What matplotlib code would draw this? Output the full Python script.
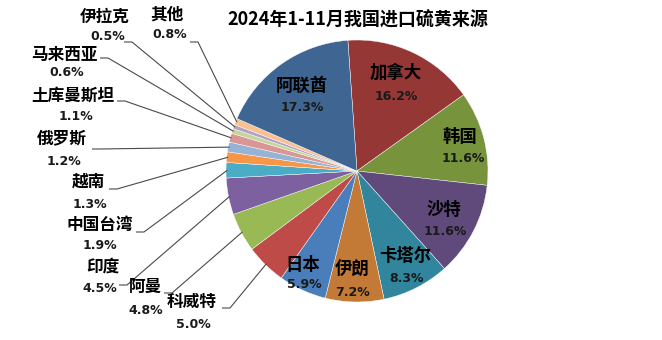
import matplotlib
matplotlib.use('Agg')
import matplotlib.pyplot as plt
import numpy as np

plt.rcParams['font.family'] = ['Noto Sans CJK SC', 'DejaVu Sans']

# data, clockwise from 12 o'clock
countries = ['加拿大', '韩国', '沙特', '卡塔尔', '伊朗', '日本', '科威特', '阿曼', '印度',
             '中国台湾', '越南', '俄罗斯', '土库曼斯坦', '马来西亚', '伊拉克', '其他', '阿联酋']
shares = [16.2, 11.6, 11.6, 8.3, 7.2, 5.9, 5.0, 4.8, 4.5,
          1.9, 1.3, 1.2, 1.1, 0.6, 0.5, 0.8, 17.3]
colors = ['#953735', '#77933C', '#604A7B', '#31859C', '#C47A37', '#4A7EBB', '#BE4B48',
          '#98B954', '#7D60A0', '#4BACC6', '#F79646', '#95B3D7', '#D99694', '#C3D69B',
          '#B3A2C7', '#FAC090', '#3F6592']

# pixel layout
W, H = 662, 340
CX, CY, R = 357, 171, 131

def px(x, y):
    return (x - CX) / R, (CY - y) / R

# inside labels: (name center, pct center)
inside_pos = {
    '阿联酋': (302, 86, 302, 107),
    '加拿大': (396, 73, 396, 96),
    '韩国': (460, 137, 463, 158),
    '沙特': (444, 210, 445, 231),
    '卡塔尔': (405, 256, 406, 278),
    '伊朗': (352, 270, 353, 292),
    '日本': (303, 265, 304, 284),
}
# outside labels: (name center, pct center, leader start)
outside_pos = {
    '伊拉克': (105, 17, 108, 37, 124, 42),
    '其他': (167, 15, 170, 35, 190, 42),
    '马来西亚': (64, 55, 67, 73, 100, 58),
    '土库曼斯坦': (73, 96, 76, 116, 117, 101),
    '俄罗斯': (62, 139, 64, 161, 92, 149),
    '越南': (88, 182, 90, 204, 109, 189),
    '中国台湾': (100, 225, 100, 245, 136, 232),
    '印度': (103, 267, 100, 288, 119, 285),
    '阿曼': (145, 287, 146, 310, 164, 293),
    '科威特': (192, 302, 193, 324, 222, 308),
}

fig = plt.figure(figsize=(W / 100, H / 100), dpi=100)
ax = fig.add_axes([0, 0, 1, 1])

wedges, _ = ax.pie(shares, colors=colors, startangle=94, counterclock=False, radius=1,
                   wedgeprops=dict(edgecolor='white', linewidth=0.3))

ax.set_xlim(-CX / R, (W - CX) / R)
ax.set_ylim(-(H - CY) / R, CY / R)
ax.set_aspect('equal')
ax.axis('off')

for w, name, val in zip(wedges, countries, shares):
    pct = f'{val:.1f}%'
    if name in inside_pos:
        nx, ny, qx, qy = inside_pos[name]
        ax.text(*px(nx, ny), name, ha='center', va='center', fontsize=12.5,
                fontweight='bold', color='black')
        ax.text(*px(qx, qy), pct, ha='center', va='center', fontsize=9,
                fontweight='bold', color='#1a1a1a', family='DejaVu Sans')
    else:
        nx, ny, qx, qy, lx, ly = outside_pos[name]
        ax.text(*px(nx, ny), name, ha='center', va='center', fontsize=12,
                fontweight='bold', color='black')
        ax.text(*px(qx, qy), pct, ha='center', va='center', fontsize=9,
                fontweight='bold', color='#1a1a1a', family='DejaVu Sans')
        mid = np.deg2rad((w.theta1 + w.theta2) / 2)
        ex, ey = np.cos(mid) * 0.99, np.sin(mid) * 0.99
        sx, sy = px(lx, ly)
        hx, _ = px(lx + 8, ly)
        ax.plot([sx, hx, ex], [sy, sy, ey], color='#4a4a4a', linewidth=0.8,
                solid_capstyle='butt')

ax.text(*px(358, 20), '2024年1-11月我国进口硫黄来源', ha='center', va='center',
        fontsize=13, fontweight='bold', color='black')

fig.savefig('out.png', dpi=100)
